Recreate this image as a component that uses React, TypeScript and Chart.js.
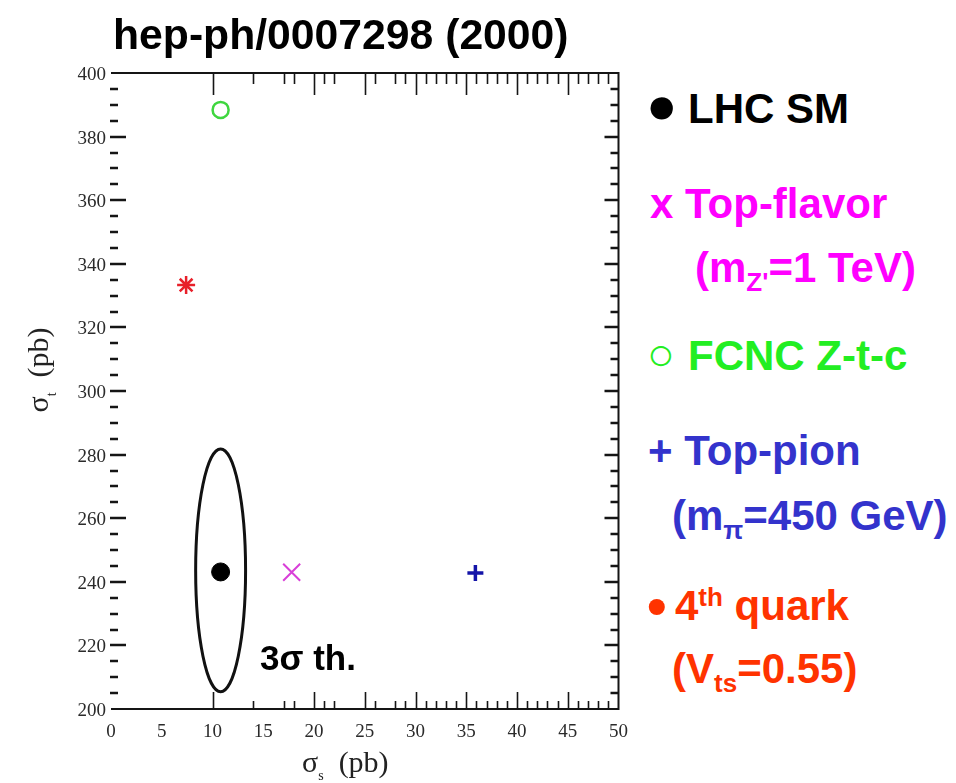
import React, { useEffect, useRef } from 'react';
import { Chart, registerables } from 'chart.js';

Chart.register(...registerables);

// ---- data ----
const seriesNames = ['LHC SM', 'Top-flavor', 'FCNC Z-t-c', 'Top-pion', '4th quark'];
const sigmaS = [10.8, 17.8, 10.8, 35.9, 7.4];
const sigmaT = [243.1, 243.0, 388.4, 242.8, 333.3];
const pointStyles = ['circle', 'crossRot', 'circle', 'cross', 'star'];
const pointColors = ['#000000', '#d83fd8', '#3fd63f', '#1414a8', '#e8202a'];
const pointFills = ['#000000', 'rgba(0,0,0,0)', 'rgba(0,0,0,0)', '#1414a8', '#e8202a'];
const pointRadii = [9, 12, 8, 8, 9];
const pointBorders = [1, 2, 2.5, 3.5, 2.5];

// 3 sigma theory ellipse (centre and half-axes in axis units)
const ellipseCenter = [10.8, 243.6];
const ellipseRadii = [2.46, 38.2];

// axis ranges / labels
const xMin = 0, xMax = 50, xStep = 5;
const yMin = 200, yMax = 400, yStep = 20;

// inward tick marks as they appear on the scanned frame
const xTickMajor = [10, 20, 25, 30, 35, 40, 45];
const xTickMinor = [14, 17, 18, 21, 22, 26, 28, 29, 31, 32, 33, 34, 36, 37, 38, 39, 41, 42, 43, 44, 46, 47, 48, 49];
const yTickMajor = [220, 240, 260, 280, 300, 320, 340, 360, 380];
const yTickMinor = [205, 210, 215, 225, 230, 235, 245, 250, 255, 265, 270, 275, 285, 290, 295, 305, 310, 315, 325, 330, 335, 345, 350, 355, 365, 370, 375, 385, 390, 395];

const framePlugin = {
  id: 'scanFrame',
  beforeDatasetsDraw(chart: any) {
    const { ctx, chartArea: a, scales } = chart;
    const xs = scales.x, ys = scales.y;
    ctx.save();
    ctx.strokeStyle = '#151515';
    ctx.lineCap = 'butt';
    // frame: top, right, bottom (left edge has no line in the scan)
    ctx.lineWidth = 2;
    ctx.beginPath();
    ctx.moveTo(a.left, a.top);
    ctx.lineTo(a.right, a.top);
    ctx.lineTo(a.right, a.bottom);
    ctx.lineTo(a.left, a.bottom);
    ctx.stroke();

    // top & bottom ticks
    ctx.lineWidth = 1.6;
    const xt = (vals: number[], topLen: number, botLen: number) => {
      for (const v of vals) {
        const px = Math.round(xs.getPixelForValue(v)) + 0.5;
        ctx.beginPath();
        ctx.moveTo(px, a.top);
        ctx.lineTo(px, a.top + topLen);
        ctx.moveTo(px, a.bottom);
        ctx.lineTo(px, a.bottom - botLen);
        ctx.stroke();
      }
    };
    xt(xTickMajor, 22, 17);
    xt(xTickMinor, 11, 8);

    // left & right ticks
    ctx.lineWidth = 2.4;
    const yt = (vals: number[], leftLen: number, rightLen: number) => {
      for (const v of vals) {
        const py = Math.round(ys.getPixelForValue(v));
        ctx.beginPath();
        ctx.moveTo(a.left - 1, py);
        ctx.lineTo(a.left + leftLen, py);
        ctx.moveTo(a.right, py);
        ctx.lineTo(a.right - rightLen, py);
        ctx.stroke();
      }
    };
    yt(yTickMajor, 15, 14);
    yt(yTickMinor, 7, 8);

    // ellipse
    const cx = xs.getPixelForValue(ellipseCenter[0]);
    const cy = ys.getPixelForValue(ellipseCenter[1]);
    const rx = Math.abs(xs.getPixelForValue(ellipseCenter[0] + ellipseRadii[0]) - cx);
    const ry = Math.abs(ys.getPixelForValue(ellipseCenter[1] + ellipseRadii[1]) - cy);
    ctx.lineWidth = 3;
    ctx.strokeStyle = '#111';
    ctx.beginPath();
    ctx.ellipse(cx, cy, rx, ry, 0, 0, Math.PI * 2);
    ctx.stroke();
    ctx.restore();
  },
};

const sans = '"Liberation Sans", Arial, Helvetica, sans-serif';
const serif = '"Liberation Serif", "Times New Roman", serif';

function ChartCanvas() {
  const ref = useRef<HTMLCanvasElement | null>(null);
  useEffect(() => {
    if (!ref.current) return;
    const chart = new Chart(ref.current, {
      type: 'scatter',
      data: {
        datasets: seriesNames.map((name, i) => ({
          label: name,
          data: [{ x: sigmaS[i], y: sigmaT[i] }],
          pointStyle: pointStyles[i] as any,
          pointRadius: pointRadii[i],
          pointHoverRadius: pointRadii[i],
          borderColor: pointColors[i],
          backgroundColor: pointFills[i],
          borderWidth: pointBorders[i],
        })),
      },
      options: {
        responsive: false,
        animation: false,
        layout: { padding: { left: 0, right: 21, top: 73, bottom: 0 } },
        plugins: { legend: { display: false }, tooltip: { enabled: false }, title: { display: false } },
        scales: {
          x: {
            type: 'linear',
            min: xMin,
            max: xMax,
            grid: { display: false, drawTicks: false },
            border: { display: false },
            ticks: {
              stepSize: xStep,
              autoSkip: false,
              maxRotation: 0,
              padding: 12,
              color: '#2a2a2a',
              font: { family: serif, size: 19 },
            },
            afterFit: (s: any) => { s.height = 74; },
          },
          y: {
            type: 'linear',
            min: yMin,
            max: yMax,
            grid: { display: false, drawTicks: false },
            border: { display: false },
            ticks: {
              stepSize: yStep,
              autoSkip: false,
              padding: 5,
              labelOffset: 2,
              color: '#2a2a2a',
              font: { family: serif, size: 19 },
            },
            afterFit: (s: any) => { s.width = 111; },
          },
        },
      },
      plugins: [framePlugin],
    });
    return () => chart.destroy();
  }, []);
  return (
    <canvas
      ref={ref}
      width={640}
      height={783}
      style={{ position: 'absolute', left: 0, top: 0, width: 640, height: 783 }}
    />
  );
}

const legendLine = (top: number, left: number, color: string, content: React.ReactNode) => (
  <div
    style={{
      position: 'absolute',
      left,
      top,
      color,
      font: `bold 42px/42px ${sans}`,
      whiteSpace: 'nowrap',
    }}
  >
    {content}
  </div>
);

const bullet = (ch: string, size: number, width: number, dy = 0) => (
  <span
    style={{
      display: 'inline-block',
      width,
      fontSize: size,
      lineHeight: 0,
      position: 'relative',
      top: dy,
    }}
  >
    {ch}
  </span>
);

const sub = (t: string, dy = 9) => (
  <span style={{ fontSize: '0.62em', position: 'relative', top: dy }}>{t}</span>
);
const sup = (t: string) => (
  <span style={{ fontSize: '0.62em', position: 'relative', top: -14 }}>{t}</span>
);

export default function App() {
  return (
    <div style={{ position: 'absolute', left: 0, top: 0, width: 956, height: 783, background: '#fff', overflow: 'hidden' }}>
      <ChartCanvas />
      <div style={{ position: 'absolute', left: 113, top: 13, font: `bold 42.7px/43px ${sans}`, color: '#000', whiteSpace: 'nowrap' }}>
        hep-ph/0007298 (2000)
      </div>

      {/* axis titles */}
      <div style={{ position: 'absolute', left: 302, top: 747, font: `30px/30px ${serif}`, color: '#222', whiteSpace: 'nowrap' }}>
        σ<span style={{ fontSize: 14, position: 'relative', top: 8 }}>s</span>&nbsp;&nbsp;(pb)
      </div>
      <div
        style={{
          position: 'absolute',
          left: -12,
          top: 355,
          width: 100,
          height: 30,
          textAlign: 'center',
          transform: 'rotate(-90deg)',
          transformOrigin: '50% 50%',
          font: `30px/30px ${serif}`,
          color: '#222',
          whiteSpace: 'nowrap',
        }}
      >
        σ<span style={{ fontSize: 14, position: 'relative', top: 8 }}>t</span>&nbsp;&nbsp;(pb)
      </div>

      {/* annotation */}
      <div style={{ position: 'absolute', left: 260, top: 640, font: `bold 35px/35px ${sans}`, color: '#000', whiteSpace: 'nowrap' }}>
        3σ th.
      </div>

      {/* legend text */}
      {legendLine(88, 646, '#000', (<>{bullet('●', 52, 42)}LHC SM</>))}
      {legendLine(183, 650, '#ff00ff', <>x Top-flavor</>)}
      {legendLine(247, 695, '#ff00ff', (<>(m{sub("Z'")}=1 TeV)</>))}
      {legendLine(335, 647, '#22ee22', (<>{bullet('○', 46, 41)}FCNC Z-t-c</>))}
      {legendLine(430, 648, '#3333cc', <>+ Top-pion</>)}
      {legendLine(495, 672, '#3333cc', (<>(m{sub('π')}=450 GeV)</>))}
      {legendLine(585, 647, '#ff3300', (<>{bullet('•', 56, 28, 5)}4{sup('th')} quark</>))}
      {legendLine(648, 672, '#ff3300', (<>(V{sub('ts')}=0.55)</>))}
    </div>
  );
}
